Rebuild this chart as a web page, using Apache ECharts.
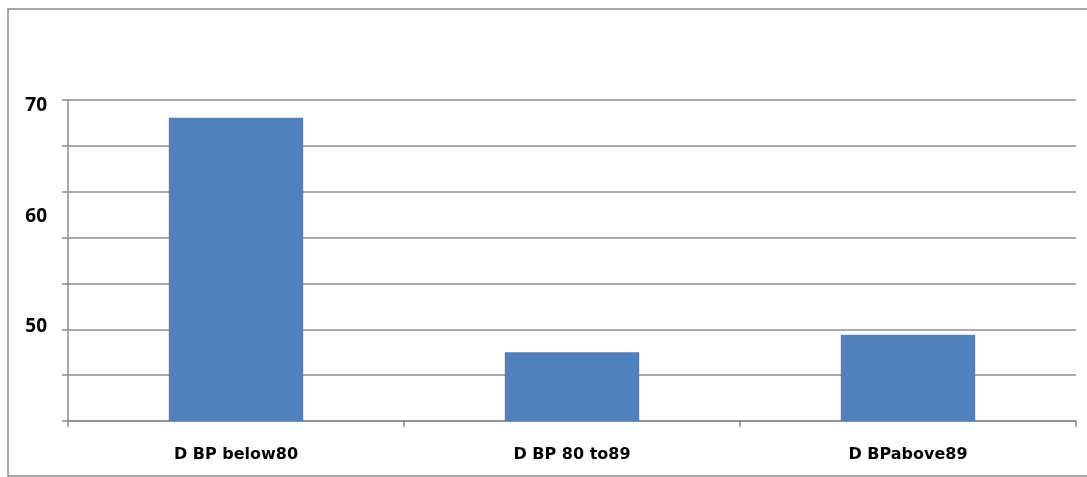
<!DOCTYPE html>
<html><head><meta charset="utf-8">
<script src="https://cdn.jsdelivr.net/npm/echarts@6/dist/echarts.min.js"></script>
<style>html,body{margin:0;padding:0;background:#fff}#c{width:1087px;height:477px}</style>
</head><body><div id="c"></div>
<script>
var categories = ['D BP below80', 'D BP 80 to89', 'D BPabove89'];
var values = [68.9, 47.7, 49.3];
var yTickLabels = [50, 60, 70];
var yMin = 41.5, yMax = 70.5;
var gridDivisions = 7;

var chart = echarts.init(document.getElementById('c'), null, {renderer: 'canvas'});
chart.setOption({
  animation: false,
  backgroundColor: '#fff',
  graphic: [{
    type: 'rect', silent: true, z: 100,
    shape: {x: 8, y: 9, width: 1100, height: 467},
    style: {fill: 'none', stroke: '#8c8c8c', lineWidth: 1.5}
  }],
  grid: {left: 68, right: 11, top: 100, bottom: 56, containLabel: false},
  xAxis: {
    type: 'category', data: categories, boundaryGap: true,
    axisLine: {lineStyle: {color: '#8c8c8c', width: 1.5}},
    axisTick: {show: true, length: 6, alignWithLabel: false, lineStyle: {color: '#8c8c8c', width: 1.5}},
    axisLabel: {margin: 26, color: '#000', fontWeight: 'bold', fontSize: 16, fontFamily: 'DejaVu Sans'}
  },
  yAxis: [{
    type: 'value', min: 0, max: gridDivisions, interval: 1,
    axisLine: {show: true, lineStyle: {color: '#8c8c8c', width: 1.5}},
    axisTick: {show: true, length: 6, lineStyle: {color: '#8c8c8c', width: 1.5}},
    splitLine: {show: true, lineStyle: {color: '#8c8c8c', width: 1.5}},
    axisLabel: {show: false}
  }, {
    type: 'value', min: yMin, max: yMax, position: 'left',
    axisLine: {show: false}, axisTick: {show: false}, splitLine: {show: false},
    axisLabel: {
      customValues: yTickLabels,
      margin: 21, color: '#000', fontWeight: 'bold', fontSize: 19, fontFamily: 'Open Sans'
    }
  }],
  series: [{
    type: 'bar', data: values, barWidth: '40%', yAxisIndex: 1,
    itemStyle: {color: '#4f81bd'}
  }]
});
</script></body></html>
